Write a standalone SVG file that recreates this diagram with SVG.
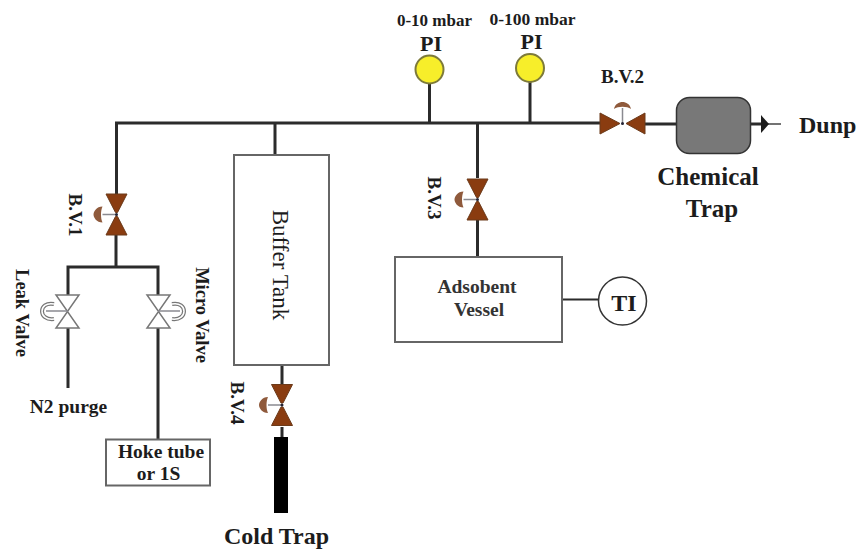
<svg xmlns="http://www.w3.org/2000/svg" width="862" height="549" viewBox="0 0 862 549">
<style>
text{font-family:"Liberation Serif","Times New Roman",serif;fill:#1c1c1c;font-weight:bold}
.m{text-anchor:middle}
.pipe{fill:none;stroke:#2b2b2b;stroke-width:3}
.thin{fill:none;stroke:#444;stroke-width:1.5}
.box{fill:#fff;stroke:#666;stroke-width:2}
.bv{fill:#8a3c10;stroke:#6b3a1a;stroke-width:1}
.lv{fill:#fff;stroke:#777;stroke-width:1.5}
.h{fill:#8f5a3c}
.st{stroke:#8a8a90;stroke-width:1.5;fill:none}
.pi{fill:#f7ee2a;stroke:#7d7a3a;stroke-width:2}
.ra{fill:none;stroke:#777;stroke-width:4}
.rb{fill:none;stroke:#fff;stroke-width:1.500}
</style>
<defs>
<g id="bvv"><path class="bv" d="M-10.500-20.500H10.500L1-2H-1ZM-10.500 20.500H10.500L1 2H-1Z"/><path class="st" d="M0 0H-14"/><path class="h" d="M-14-8C-20-8-23-3-23 0C-23 3-20 8-14 8C-16 4-16-4-14-8Z"/><circle r="1.500" fill="#223"/></g>
<g id="lvv"><path class="lv" d="M-11.500-16.500H11.500L0 0ZM-11.500 16.500H11.500L0 0Z"/></g>
</defs>
<rect width="862" height="549" fill="#fff"/>
<g id="connectors">
<path class="pipe" d="M116.500 194V123H600M645 124H677M275 123V155M429.500 83V123M530 82V123M477.500 123V178M477.500 220V257M116 235V267M68 295V267H158V295M68 328V388M158 328V440M282 365V385M282 427V437"/>
<path class="pipe" d="M750 124H767"/>
<path class="thin" d="M767 124H781"/>
<path d="M761 115L769 124L761 133Z" fill="#1c1c1c"/>
<path class="pipe" d="M562 299.500H600" style="stroke-width:2"/>
</g>
<g id="bv1"><use href="#bvv" x="116.500" y="214.500"/><text class="m" font-size="19" transform="translate(69,215) rotate(90)">B.V.1</text></g>
<g id="bv2"><path class="bv" d="M600 113L620 123.500L600 134ZM645 113L626 123.500L645 134Z"/><path class="st" d="M622.500 123V108"/><path class="h" d="M614 109C615 104 619 102 622.500 102C626 102 630 104 631 109C627 106 618 106 614 109Z"/><circle cx="622.500" cy="123.500" r="1.500" fill="#223"/><text class="m" x="622.500" y="83" font-size="19">B.V.2</text></g>
<g id="bv3"><use href="#bvv" x="477.500" y="199.500"/><text class="m" font-size="19" transform="translate(428,198) rotate(90)">B.V.3</text></g>
<g id="bv4"><use href="#bvv" x="282" y="405"/><text class="m" font-size="19" transform="translate(231,403) rotate(90)">B.V.4</text></g>
<g id="leak-valve"><use href="#lvv" x="67.500" y="311.500"/><path class="st" d="M68 311H46"/><path class="ra" d="M54 304C38 301 38 321 54 319"/><path class="rb" d="M54 304C38 301 38 321 54 319"/><text class="m" font-size="18.500" transform="translate(16,313) rotate(90)">Leak Valve</text></g>
<g id="micro-valve"><use href="#lvv" x="158.500" y="311.500"/><path class="st" d="M158 311H180"/><path class="ra" d="M172 304C188 301 188 321 172 319"/><path class="rb" d="M172 304C188 301 188 321 172 319"/><text class="m" font-size="18.500" transform="translate(196,315) rotate(90)">Micro Valve</text></g>
<g id="n2-purge"><text class="m" x="68.500" y="413" font-size="19.500">N2 purge</text></g>
<g id="hoke-tube"><rect class="box" x="106" y="439.500" width="104" height="46"/><text class="m" x="161" y="458" font-size="19.500">Hoke tube</text><text class="m" x="158.500" y="480" font-size="19.500">or 1S</text></g>
<g id="buffer-tank"><rect class="box" x="234" y="155" width="95" height="210"/><text class="m" font-size="23" style="font-weight:normal" transform="translate(273,265) rotate(90)">Buffer Tank</text></g>
<g id="cold-trap"><rect x="274" y="437" width="14" height="76" fill="#000"/><text class="m" x="276.500" y="544" font-size="24">Cold Trap</text></g>
<g id="pi-1"><circle class="pi" cx="429.500" cy="69.500" r="14"/><text class="m" x="434.500" y="26" font-size="17">0-10 mbar</text><text class="m" x="431" y="51" font-size="22">PI</text></g>
<g id="pi-2"><circle class="pi" cx="530" cy="68" r="14"/><text class="m" x="532.500" y="25" font-size="17.500">0-100 mbar</text><text class="m" x="531.500" y="49" font-size="22">PI</text></g>
<g id="chemical-trap"><rect x="676.500" y="97.500" width="74" height="56" rx="13" fill="#787878" stroke="#333" stroke-width="1.500"/><text class="m" x="708" y="185" font-size="25">Chemical</text><text class="m" x="712" y="217" font-size="25">Trap</text></g>
<g id="dump"><text x="799" y="133" font-size="24">Dunp</text></g>
<g id="adsorbent-vessel"><rect class="box" x="395" y="257" width="167" height="85"/><text class="m" x="477" y="293" font-size="19.500" style="fill:#333">Adsobent</text><text class="m" x="479" y="316" font-size="19.500" style="fill:#333">Vessel</text></g>
<g id="ti"><circle cx="622.500" cy="301" r="24" fill="#fff" stroke="#333" stroke-width="1.500"/><text class="m" x="624" y="311" font-size="24">TI</text></g>
</svg>
